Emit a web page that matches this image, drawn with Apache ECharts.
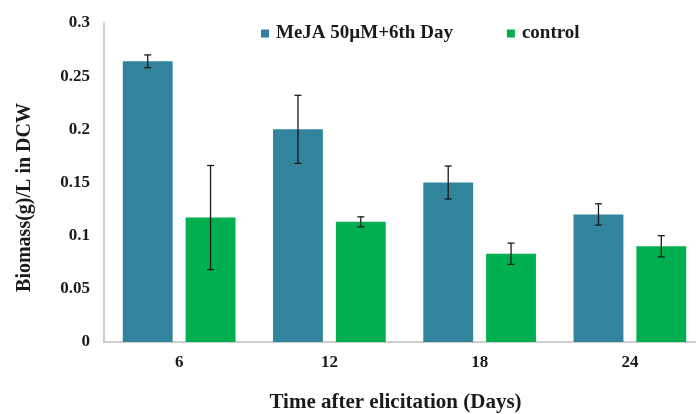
<!DOCTYPE html>
<html>
<head>
<meta charset="utf-8">
<script src="https://cdn.jsdelivr.net/npm/echarts@6/dist/echarts.min.js"></script>
<style>html,body{margin:0;padding:0;background:#fff;}#c{width:696px;height:414px;}</style>
</head>
<body>
<div id="c"></div>
<script>
const categories = ['6', '12', '18', '24'];
const mejaValues = [0.264, 0.200, 0.150, 0.120];
const mejaErrors = [0.006, 0.032, 0.0155, 0.010];
const controlValues = [0.117, 0.113, 0.083, 0.090];
const controlErrors = [0.049, 0.0047, 0.010, 0.010];
const seriesNames = ['MeJA 50\u00b5M+6th Day', 'control'];

const FONT = "'Liberation Serif', 'Times New Roman', serif";
const CAT_GAP = 0.25, BAR_GAP = 0.26;

function errorSeries(values, errors, idx) {
  return {
    type: 'custom',
    silent: true,
    z: 10,
    data: values.map((v, i) => [i, v, errors[i]]),
    renderItem: function (params, api) {
      const i = api.value(0), v = api.value(1), e = api.value(2);
      const band = api.size([1, 0])[0];
      const group = band * (1 - CAT_GAP);
      const bw = group / (2 + BAR_GAP);
      const off = idx === 0 ? (-group / 2 + bw / 2) : (group / 2 - bw / 2);
      const hi = api.coord([i, v + e]);
      const lo = api.coord([i, v - e]);
      const x = hi[0] + off;
      const cap = 3.5;
      const style = { stroke: '#1a1a1a', lineWidth: 1.3 };
      return {
        type: 'group',
        children: [
          { type: 'line', shape: { x1: x, y1: hi[1], x2: x, y2: lo[1] }, style: style },
          { type: 'line', shape: { x1: x - cap, y1: hi[1], x2: x + cap, y2: hi[1] }, style: style },
          { type: 'line', shape: { x1: x - cap, y1: lo[1], x2: x + cap, y2: lo[1] }, style: style }
        ]
      };
    }
  };
}

const chart = echarts.init(document.getElementById('c'));
chart.setOption({
  animation: false,
  backgroundColor: '#ffffff',
  textStyle: { fontFamily: FONT },
  legend: {
    data: seriesNames,
    left: 256,
    top: 19,
    icon: 'rect',
    itemWidth: 8,
    itemHeight: 8,
    itemGap: 54,
    textStyle: { fontFamily: FONT, fontWeight: 'bold', fontSize: 19, color: '#1a1a1a', padding: [0, 0, 0, 2] }
  },
  grid: { left: 104, width: 601, top: 23, bottom: 72, outerBoundsMode: 'none', containLabel: false },
  xAxis: {
    type: 'category',
    data: categories,
    axisLine: { lineStyle: { color: '#bfbfbf', width: 1.5 } },
    axisTick: { show: false },
    axisLabel: { fontFamily: FONT, fontWeight: 'bold', fontSize: 17, color: '#1a1a1a', margin: 12 },
    name: 'Time after elicitation (Days)',
    nameLocation: 'middle',
    nameGap: 50,
    nameTextStyle: { fontFamily: FONT, fontWeight: 'bold', fontSize: 21, color: '#1a1a1a', padding: [0, 18, 0, 0] }
  },
  yAxis: {
    type: 'value',
    min: 0,
    max: 0.3,
    interval: 0.05,
    axisLine: { show: true, lineStyle: { color: '#bfbfbf', width: 1.5 } },
    axisTick: { show: false },
    splitLine: { show: false },
    axisLabel: { fontFamily: FONT, fontWeight: 'bold', fontSize: 17, color: '#1a1a1a', margin: 14 },
    name: 'Biomass(g)/L in DCW',
    nameLocation: 'middle',
    nameGap: 69,
    nameTextStyle: { fontFamily: FONT, fontWeight: 'bold', fontSize: 20, color: '#1a1a1a', padding: [0, 30, 0, 0] }
  },
  series: [
    {
      name: seriesNames[0],
      type: 'bar',
      data: mejaValues,
      barCategoryGap: '25%',
      barGap: '26%',
      itemStyle: { color: '#31849B' }
    },
    {
      name: seriesNames[1],
      type: 'bar',
      data: controlValues,
      barCategoryGap: '25%',
      barGap: '26%',
      itemStyle: { color: '#00B050' }
    },
    errorSeries(mejaValues, mejaErrors, 0),
    errorSeries(controlValues, controlErrors, 1)
  ]
});
</script>
</body>
</html>
